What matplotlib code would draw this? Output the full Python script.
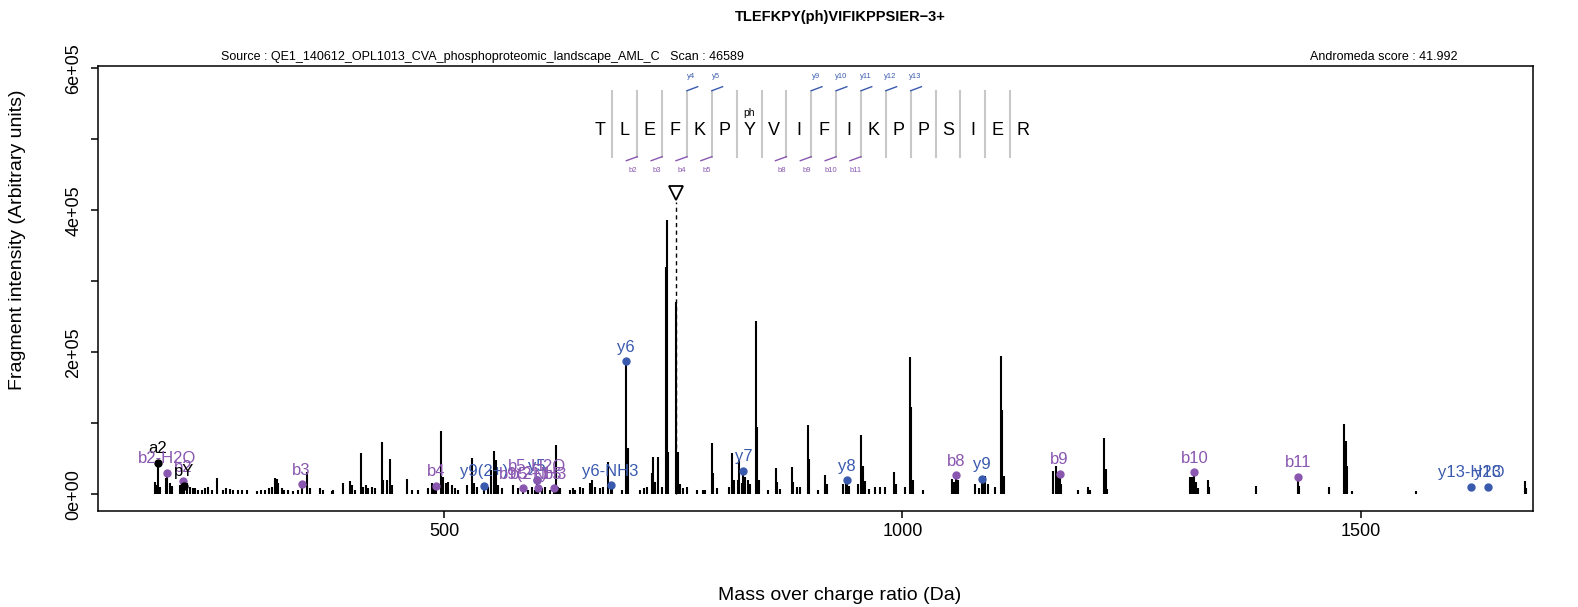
import matplotlib

matplotlib.use("Agg")
import matplotlib.pyplot as plt

plt.rcParams["font.family"] = ["Liberation Sans", "DejaVu Sans"]

# spectrum peaks (m/z, intensity)
peak_mz = [
    184.3, 186.1, 187.1, 189.7, 196.0, 197.1, 200.6, 202.5, 211.6, 213.4, 215.1, 216.0,
    218.8, 222.5, 225.4, 227.9, 231.6, 235.2, 238.8, 242.5, 246.1, 252.3, 258.9, 261.8,
    266.1, 269.8, 275.2, 278.9, 284.3, 295.2, 299.6, 304.3, 309.1, 311.6, 315.2, 317.1,
    318.9, 322.5, 325.1, 329.8, 335.2, 340.7, 344.2, 349.8, 353.4, 364.4, 368.0, 377.1,
    378.9, 389.9, 397.1, 399.0, 402.6, 408.8, 411.7, 414.6, 417.1, 420.8, 424.4, 431.7,
    433.5, 437.9, 440.8, 442.6, 459.0, 464.4, 471.7, 482.6, 486.3, 488.8, 491.3, 496.4,
    499.0, 501.9, 504.4, 508.1, 511.7, 515.4, 524.5, 529.9, 532.5, 535.4, 543.8, 548.1,
    550.7, 554.3, 556.1, 559.0, 562.7, 575.4, 580.8, 586.3,
    591.7, 595.3, 598.9, 601.3, 602.3, 606.3, 609.9, 615.3, 619.3, 621.9, 624.4, 626.2,
    637.2, 640.1, 642.6, 648.1, 651.7, 659.0, 660.8, 664.4, 669.9, 673.5, 678.3, 681.4,
    683.5, 693.6, 698.4, 700.5, 713.6, 718.0, 720.8, 726.3, 728.1, 729.9, 733.6, 737.2,
    741.5, 742.5, 744.0, 753.1, 755.4, 757.0, 760.9, 764.5, 775.4, 782.7, 791.8, 793.6,
    797.2,
    784.6, 811.1, 814.4, 816.5, 820.9, 821.7, 824.4, 826.5, 828.6, 831.9, 833.7, 840.2,
    841.2, 843.9, 853.7, 862.0, 863.5, 866.2, 879.1, 881.0, 884.6, 888.2, 896.6, 898.0,
    908.3, 915.5, 917.3, 935.5, 937.9, 939.6, 941.5, 951.3, 954.4, 956.5, 958.9, 963.0,
    970.1, 975.6, 981.0, 990.8, 992.5,
    1002.8, 1008.3, 1009.4, 1011.5, 1022.1, 1053.7, 1056.2, 1058.5, 1060.8, 1079.2,
    1083.5, 1086.6, 1088.3, 1090.1, 1093.7, 1101.0, 1107.4, 1108.9, 1110.5, 1164.7,
    1167.2, 1169.4, 1171.6, 1173.5, 1192.0,
    1202.9, 1204.5, 1220.4, 1221.8, 1223.0, 1313.8, 1315.8, 1318.6, 1320.5, 1322.0,
    1333.5, 1334.8, 1386.2, 1431.7, 1433.0, 1465.5, 1482.3, 1483.5, 1484.6, 1490.3,
    1560.5, 1679.4, 1680.5,
]
peak_int = [
    17600, 13000, 44400, 10600, 22400, 30300, 15400, 11600, 13000, 16200, 18600, 12000,
    15400, 10600, 8200, 8200, 5900, 5900, 8200, 10600, 5900, 23300, 5900, 8200,
    7100, 5900, 5900, 6600, 5900, 5000, 5900, 5900, 8200, 10600, 22400, 21000,
    15400, 8200, 5900, 5900, 5000, 5900, 14500, 31700, 8200, 8200, 5900, 5000,
    5900, 15400, 18600, 13000, 5900, 58500, 10600, 13000, 8200, 10600, 8200, 73100,
    20000, 20000, 49200, 13000, 20900, 5900, 5900, 8200, 15400, 13000, 12000, 89500,
    24700, 15400, 17000, 13000, 8200, 5900, 13000, 50600, 15400, 10600, 12000, 10600,
    34100, 61300, 48200, 13000, 8200, 13000, 8200, 9000,
    5900, 10600, 5900, 20000, 9000, 8200, 10600, 5900, 9000, 69300, 10600, 8200,
    5900, 8200, 5900, 10600, 8200, 16200, 20000, 10600, 8200, 10600, 45800, 13000,
    10600, 5900, 187000, 65000, 5900, 8200, 10600, 29400, 52800, 17000, 52800, 10600,
    320000, 386000, 60000, 271000, 59000, 15000, 8200, 10600, 5900, 5900, 71700, 29400,
    8200,
    6000, 9700, 57600, 20000, 20000, 48200, 16000, 33100, 24000, 20000, 14000, 244000,
    95000, 20000, 5900, 36500, 17000, 7000, 37900, 17000, 9700, 9700, 97700, 50000,
    5900, 27000, 15000, 15000, 17000, 20000, 11000, 15000, 83400, 40000, 18000, 8000,
    9700, 9700, 9700, 31700, 14000,
    9700, 193700, 123000, 20000, 5900, 21400, 17000, 26600, 20000, 14400,
    9000, 21800, 20000, 25600, 14000, 9700, 195000, 118600, 25000, 33100,
    39700, 25000, 28900, 15000, 5900,
    9700, 6000, 78800, 35000, 8000, 24700, 23800, 31000, 17000, 9000,
    20000, 10000, 11000, 24700, 12000, 10600, 98500, 75000, 40000, 5000,
    4000, 19000, 9000,
]

# annotated fragment ions
ion_names = ["a2", "b2-H2O", "b2", "pY", "b3", "b4", "y9(2+)", "b9(2+)", "y5", "b5-H2O",
             "b5-NH3", "b5", "y6-NH3", "y6", "y7", "y8", "b8", "y9", "b9", "b10", "b11",
             "y13-H2O", "y13"]
ion_mz = [187.1, 197.1, 215.1, 216.0, 344.2, 491.3, 543.8, 586.3, 601.3, 601.3,
          602.3, 619.3, 681.4, 698.4, 826.5, 939.6, 1058.5, 1086.6, 1171.6, 1318.6, 1431.7,
          1620.9, 1638.9]
ion_int = [44400, 30300, 18600, 12000, 14500, 12000, 12000, 9000, 20000, 20000,
           9000, 9000, 13000, 187000, 33100, 20000, 26600, 21800, 28900, 31000, 24700,
           10600, 10600]
ion_kind = ["o", "b", "b", "o", "b", "b", "y", "b", "y", "b",
            "b", "b", "y", "y", "y", "y", "b", "y", "b", "b", "b",
            "y", "y"]

precursor_mz = 753.07
precursor_mark = 424000

sequence = list("TLEFKPYVIFIKPPSIER")
b_cleavages = [2, 3, 4, 5, 8, 9, 10, 11]
y_cleavages = [4, 5, 9, 10, 11, 12, 13]

PURPLE = "#8a57b0"
BLUE = "#3a5aae"
kind_color = {"b": PURPLE, "y": BLUE, "o": "black"}

W, H = 1578, 607
fig = plt.figure(figsize=(W / 100, H / 100), dpi=100)
ax_l, ax_r, ax_t, ax_b = 97.6, 1532.7, 66.4, 511.2
ax = fig.add_axes([ax_l / W, 1 - ax_b / H, (ax_r - ax_l) / W, (ax_b - ax_t) / H])


def px(x, y):
    # image pixel -> axes fraction
    return (x - ax_l) / (ax_r - ax_l), (ax_b - y) / (ax_b - ax_t)


ax.vlines([precursor_mz], 0, precursor_mark - 12000, colors="black",
          linestyles=(0, (3, 2.5)), lw=1.0)
ax.vlines(peak_mz, 0, peak_int, colors="black", lw=1.5)
ax.plot([precursor_mz], [precursor_mark], marker="v", ms=10, mfc="white",
        mec="black", mew=1.3, ls="none")

for name, mz, inten, kind in zip(ion_names, ion_mz, ion_int, ion_kind):
    c = kind_color[kind]
    ax.plot([mz], [inten], "o", ms=5, color=c)
    ax.annotate(name, (mz, inten), xytext=(0, 4.5), textcoords="offset points",
                ha="center", va="bottom", fontsize=12, color=c)

# peptide sequence with fragment coverage
seq_x0, seq_step, seq_y = 600.0, 24.86, 130.7
sep_top, sep_bot = 90.7, 156.7
for i, aa in enumerate(sequence):
    ax.text(*px(seq_x0 + i * seq_step, seq_y), aa, transform=ax.transAxes,
            ha="center", va="center", fontsize=13)
    if aa == "Y":
        ax.text(*px(seq_x0 + i * seq_step, 112.7), "ph", transform=ax.transAxes,
                ha="center", va="center", fontsize=7.5)
for k in range(1, len(sequence)):
    sx = seq_x0 + (k - 0.5) * seq_step
    x0, y0 = px(sx, sep_top)
    x1, y1 = px(sx, sep_bot)
    ax.plot([x0, x1], [y0, y1], transform=ax.transAxes, color="#c8c8c8", lw=1.5)
    if k in b_cleavages:
        xa, ya = px(sx, sep_bot)
        xb, yb = px(sx - 11, sep_bot + 4)
        ax.plot([xa, xb], [ya, yb], transform=ax.transAxes, color=PURPLE, lw=1)
        ax.text(*px(sx - 5, 170.7), f"b{k}", transform=ax.transAxes,
                ha="center", va="center", fontsize=5.5, color=PURPLE)
    if k in y_cleavages:
        xa, ya = px(sx, sep_top)
        xb, yb = px(sx + 10.7, sep_top - 4)
        ax.plot([xa, xb], [ya, yb], transform=ax.transAxes, color=BLUE, lw=1)
        ax.text(*px(sx + 4.5, 76.7), f"y{k}", transform=ax.transAxes,
                ha="center", va="center", fontsize=5.5, color=BLUE)

ax.set_xlim(121.6, 1687.8)
ax.set_ylim(-23950, 602800)
ax.set_xticks([500, 1000, 1500])
ax.set_xticklabels(["500", "1000", "1500"])
yt = [0, 1e5, 2e5, 3e5, 4e5, 5e5, 6e5]
ax.set_yticks(yt)
ax.set_yticklabels(["0e+00", "", "2e+05", "", "4e+05", "", "6e+05"], rotation=90, va="center")
ax.tick_params(direction="out", length=5, width=1.1, labelsize=13)
ax.tick_params(axis="y", pad=6)
for s in ax.spines.values():
    s.set_linewidth(1.1)

fig.text(840 / W, 1 - 17 / H, "TLEFKPY(ph)VIFIKPPSIER\u22123+", ha="center", va="center",
         fontsize=10.5, fontweight="bold")
fig.text(221.4 / W, 1 - 57.4 / H,
         "Source : QE1_140612_OPL1013_CVA_phosphoproteomic_landscape_AML_C   Scan : 46589",
         ha="left", va="center", fontsize=9)
fig.text(1457 / W, 1 - 57.4 / H, "Andromeda score : 41.992", ha="right", va="center",
         fontsize=9)
fig.text(840 / W, 1 - 595.8 / H, "Mass over charge ratio (Da)", ha="center", va="center",
         fontsize=14)
fig.text(18 / W, 1 - 240 / H, "Fragment intensity (Arbitrary units)", ha="center",
         va="center", rotation=90, fontsize=14)

fig.savefig("out.png", dpi=100)
plt.close(fig)
